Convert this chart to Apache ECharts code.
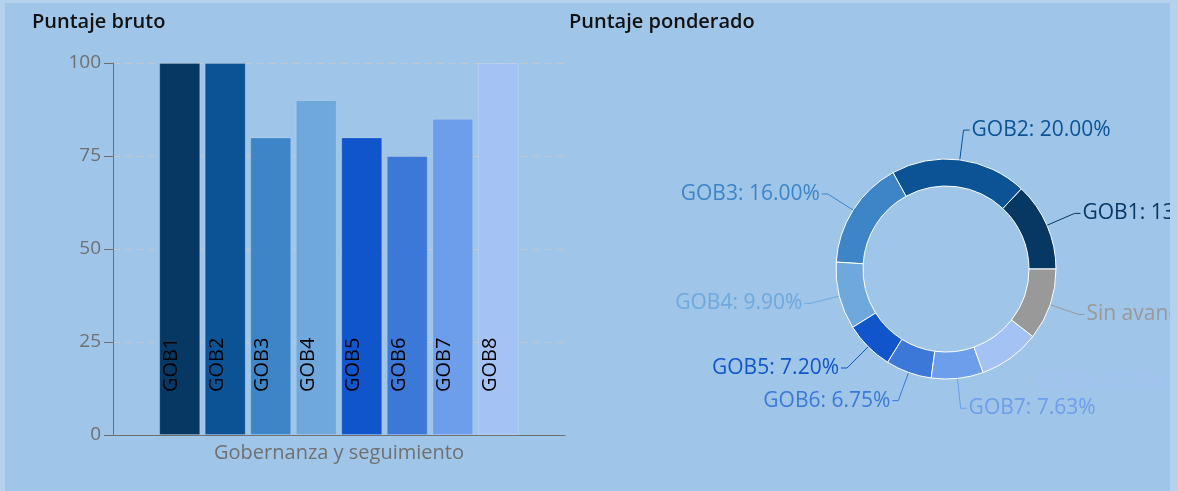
<!DOCTYPE html>
<html lang="es">
<head>
    <meta charset="UTF-8">
    <title>Puntaje bruto y ponderado</title>
    <script src="https://cdn.jsdelivr.net/npm/echarts@6/dist/echarts.min.js"></script>
    <style>
        html, body { margin: 0; padding: 0; background: #b5d2ec; }
        #main { position: absolute; left: 5px; top: 3px; width: 1165px; height: 488px; background: #9fc5e8; }
    </style>
</head>
<body>
<div id="main"></div>
<script type="text/javascript">
    // datos del grafico de barras
    var categorias = ['GOB1', 'GOB2', 'GOB3', 'GOB4', 'GOB5', 'GOB6', 'GOB7', 'GOB8'];
    var puntajeBruto = [100, 100, 80, 90, 80, 75, 85, 100];
    var ejeX = ['Gobernanza y seguimiento'];
    var ejeY = [0, 25, 50, 75, 100];

    // datos del anillo
    var nombresPonderado = ['GOB1', 'GOB2', 'GOB3', 'GOB4', 'GOB5', 'GOB6', 'GOB7', 'GOB8', 'Sin avance'];
    var puntajePonderado = [13.00, 20.00, 16.00, 9.90, 7.20, 6.75, 7.63, 9.00, 10.52];

    var colores = ['#073763', '#0b5394', '#3d85c6', '#6fa8dc', '#1155cc', '#3c78d8', '#6d9eeb', '#a4c2f4', '#999999'];
    var gris = '#707070';
    var fuente = 'Open Sans';

    var myChart = echarts.init(document.getElementById('main'));

    var series = categorias.map(function (c, i) {
        return {
            name: c,
            type: 'bar',
            data: [puntajeBruto[i]],
            barWidth: 41,
            barGap: '11%',
            itemStyle: { color: colores[i], borderColor: 'rgba(255,255,255,0.18)', borderWidth: 1 },
            label: {
                show: true,
                formatter: '{a}',
                position: 'insideBottom',
                distance: 43,
                rotate: 90,
                align: 'left',
                verticalAlign: 'middle',
                offset: [0, -8],
                color: '#000',
                fontSize: 20,
                fontFamily: fuente
            },
            emphasis: { disabled: true }
        };
    });

    series.push({
        name: 'Puntaje ponderado',
        type: 'pie',
        center: [941, 266],
        radius: [83, 110],
        startAngle: 0,
        clockwise: false,
        avoidLabelOverlap: false,
        itemStyle: { borderColor: '#ffffff', borderWidth: 1 },
        label: {
            fontSize: 21,
            fontFamily: fuente,
            distanceToLabelLine: 2,
            formatter: function (p) { return p.name + ': ' + p.value.toFixed(2) + '%'; }
        },
        labelLine: { length: 30, length2: 6, lineStyle: { width: 1 } },
        emphasis: { disabled: true },
        data: nombresPonderado.map(function (n, i) {
            return {
                name: n,
                value: puntajePonderado[i],
                itemStyle: { color: colores[i] },
                label: { color: colores[i] },
                labelLine: { lineStyle: { color: colores[i] } }
            };
        })
    });

    var option = {
        animation: false,
        title: [
            { text: 'Puntaje bruto', left: 22, top: 4,
              textStyle: { fontSize: 20, fontWeight: 600, color: '#111', fontFamily: fuente } },
            { text: 'Puntaje ponderado', left: 559, top: 4,
              textStyle: { fontSize: 20, fontWeight: 600, color: '#111', fontFamily: fuente } }
        ],
        grid: { left: 108, top: 60, right: 605, bottom: 56 },
        xAxis: {
            type: 'category',
            data: ejeX,
            axisLine: { lineStyle: { color: gris } },
            axisTick: { alignWithLabel: true, length: 8, lineStyle: { color: gris } },
            axisLabel: { color: gris, fontSize: 20, margin: 8, fontFamily: fuente }
        },
        yAxis: {
            type: 'value',
            min: ejeY[0],
            max: ejeY[ejeY.length - 1],
            interval: ejeY[1] - ejeY[0],
            axisLine: { show: true, lineStyle: { color: gris } },
            axisTick: { show: true, length: 9, lineStyle: { color: gris } },
            axisLabel: { color: gris, fontSize: 19, margin: 12, fontFamily: fuente },
            splitLine: { lineStyle: { type: [7, 5], color: '#c6c6c6' } }
        },
        series: series
    };

    myChart.setOption(option);
</script>
</body>
</html>
